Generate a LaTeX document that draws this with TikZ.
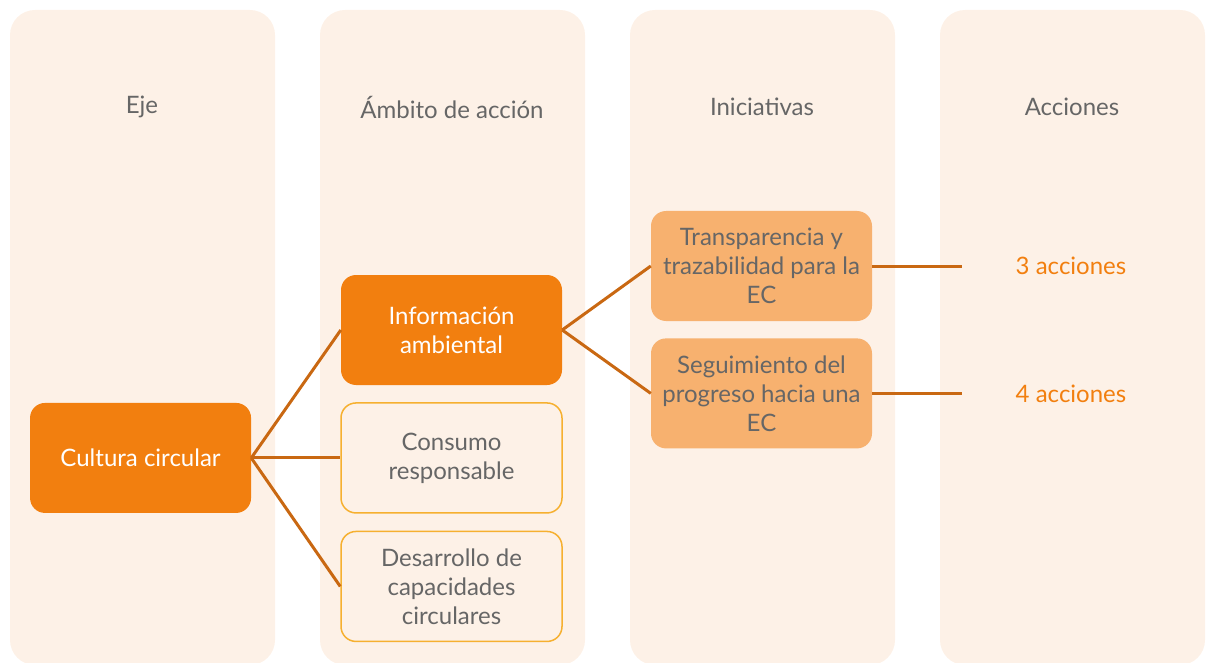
\documentclass[tikz,border=0pt]{standalone}
\usepackage{fontspec}
\setmainfont{Lato}
\usepackage{xcolor}
\usetikzlibrary{positioning}

\definecolor{colbg}{HTML}{FDF1E7}
\definecolor{naranja}{HTML}{F27F0F}
\definecolor{naranjaclaro}{HTML}{F7B16F}
\definecolor{borde}{HTML}{F6B030}
\definecolor{linea}{HTML}{C96812}
\definecolor{gris}{HTML}{666666}

\begin{document}
\begin{tikzpicture}[x=1pt, y=-1pt,
    column/.style={fill=colbg, rounded corners=25pt},
    header/.style={text=gris, font=\fontsize{24}{29}\selectfont},
    box/.style={rectangle, rounded corners=15pt, minimum width=221pt, minimum height=110pt, align=center, font=\fontsize{24}{29}\selectfont},
    eje/.style={box, fill=naranja, text=white},
    ambito/.style={box, draw=borde, line width=1.5pt, fill=colbg, text=gris},
    iniciativa/.style={box, fill=naranjaclaro, text=gris},
    accion/.style={text=naranja, font=\fontsize{24}{29}\selectfont},
    link/.style={draw=linea, line width=3pt}
]

\useasboundingbox (0,0) rectangle (1210,663);

% Columns
\foreach \x in {10,320,630,940}
    \fill[column] (\x,10) rectangle ++(265,655);

% Headers
\node[header] (hEje) at (142,107) {Eje};
\node[header] (hAmbito) at (452,107) {Ámbito de acción};
\node[header] (hIniciativas) at (762,107) {Iniciativas};
\node[header] (hAcciones) at (1072,107) {Acciones};

% Ambitos
\node[eje] (info) at (451.5,330) {Información\\ambiental};
\node[ambito, below=17pt of info] (consumo) {Consumo\\responsable};
\node[ambito, below=17pt of consumo] (desarrollo) {Desarrollo de\\capacidades\\circulares};

% Eje
\node[eje, left=89pt of consumo] (cultura) {Cultura circular};

% Iniciativas
\node[iniciativa] (transp) at (761.5,266) {Transparencia y\\trazabilidad para la\\EC};
\node[iniciativa, below=17pt of transp] (seguim) {Seguimiento del\\progreso hacia una\\EC};

% Acciones
\coordinate[right=90pt of transp] (fin3);
\coordinate[right=90pt of seguim] (fin4);
\node[accion, right=50pt of fin3] (acc3) {3 acciones};
\node[accion, right=50pt of fin4] (acc4) {4 acciones};

% Connections
\draw[link] (cultura.east) -- (info.west);
\draw[link] (cultura.east) -- (consumo.west);
\draw[link] (cultura.east) -- (desarrollo.west);
\draw[link] (info.east) -- (transp.west);
\draw[link] (info.east) -- (seguim.west);
\draw[link] (transp.east) -- (fin3);
\draw[link] (seguim.east) -- (fin4);

\end{tikzpicture}
\end{document}
